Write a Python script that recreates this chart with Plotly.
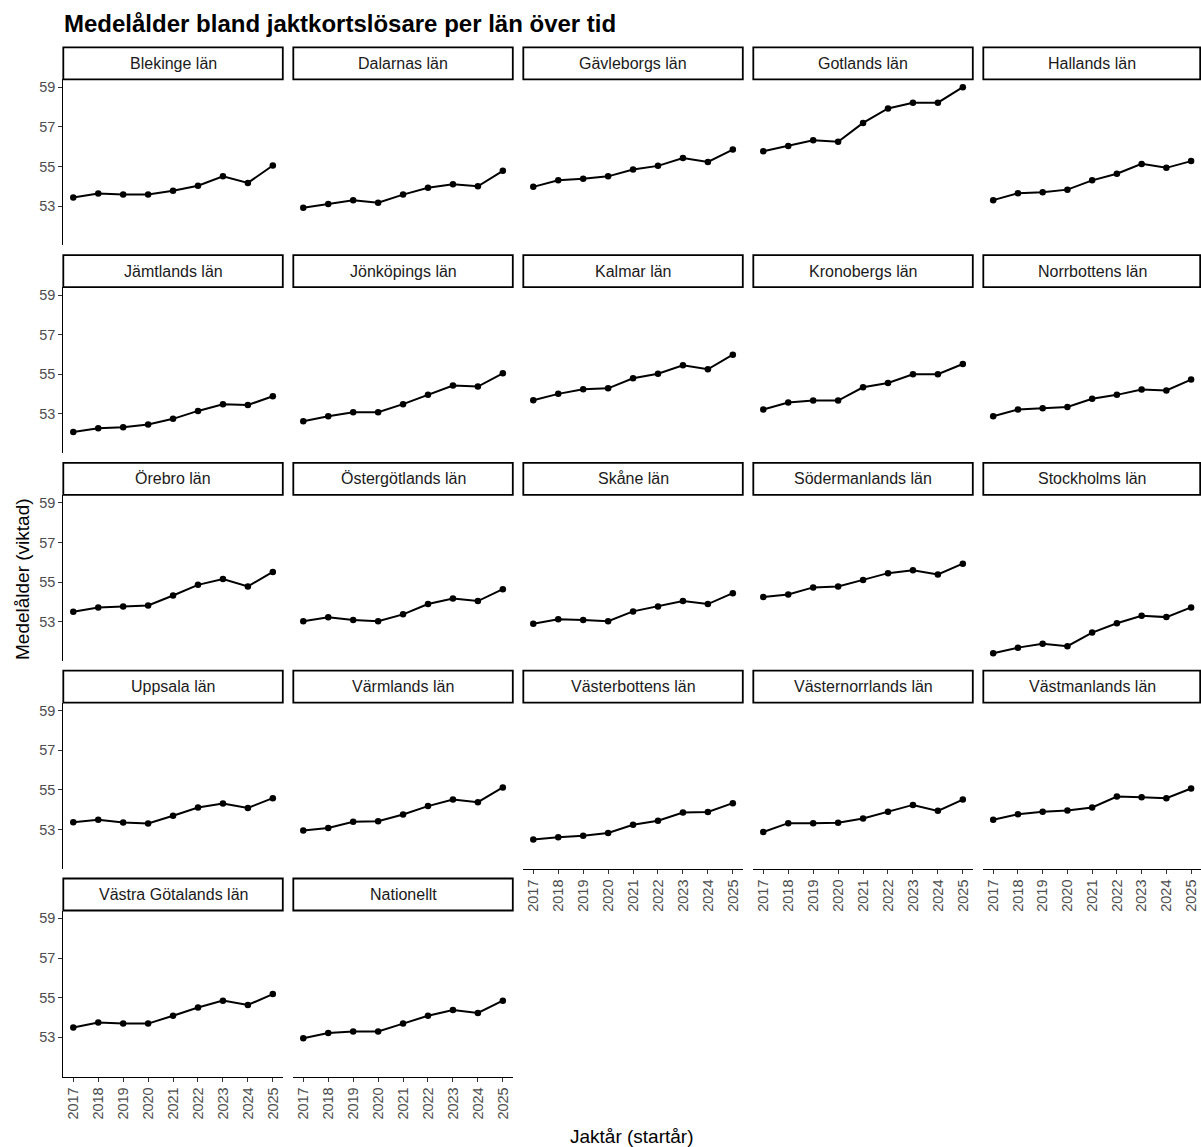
import plotly.graph_objects as go

years = [2017, 2018, 2019, 2020, 2021, 2022, 2023, 2024, 2025]
y_ticks = [53, 55, 57, 59]

blekinge = [53.43, 53.63, 53.58, 53.58, 53.77, 54.03, 54.50, 54.17, 55.05]
dalarna = [52.92, 53.10, 53.30, 53.17, 53.58, 53.92, 54.10, 54.00, 54.78]
gavleborg = [53.97, 54.30, 54.38, 54.50, 54.85, 55.03, 55.43, 55.23, 55.85]
gotland = [55.77, 56.03, 56.32, 56.25, 57.20, 57.93, 58.22, 58.22, 59.00]
halland = [53.30, 53.65, 53.70, 53.83, 54.30, 54.63, 55.13, 54.93, 55.27]
jamtland = [52.08, 52.28, 52.33, 52.46, 52.75, 53.15, 53.49, 53.45, 53.89]
jonkoping = [52.63, 52.88, 53.08, 53.08, 53.49, 53.96, 54.43, 54.38, 55.05]
kalmar = [53.69, 54.01, 54.24, 54.29, 54.80, 55.03, 55.45, 55.25, 55.99]
kronoberg = [53.22, 53.57, 53.67, 53.67, 54.34, 54.56, 55.00, 55.00, 55.52]
norrbotten = [52.88, 53.22, 53.29, 53.35, 53.76, 53.96, 54.23, 54.18, 54.73]
orebro = [53.50, 53.72, 53.77, 53.82, 54.32, 54.86, 55.15, 54.78, 55.51]
ostergotland = [53.02, 53.22, 53.08, 53.02, 53.37, 53.89, 54.17, 54.04, 54.64]
skane = [52.90, 53.12, 53.08, 53.02, 53.52, 53.77, 54.04, 53.89, 54.44]
sodermanland = [54.24, 54.37, 54.73, 54.78, 55.11, 55.45, 55.60, 55.38, 55.93]
stockholm = [51.41, 51.69, 51.88, 51.76, 52.45, 52.92, 53.30, 53.23, 53.72]
uppsala = [53.37, 53.49, 53.35, 53.30, 53.69, 54.11, 54.31, 54.09, 54.58]
varmland = [52.95, 53.07, 53.39, 53.42, 53.76, 54.18, 54.51, 54.38, 55.12]
vasterbotten = [52.50, 52.61, 52.68, 52.82, 53.24, 53.44, 53.86, 53.88, 54.33]
vasternorrland = [52.87, 53.32, 53.32, 53.34, 53.55, 53.89, 54.24, 53.94, 54.51]
vastmanland = [53.49, 53.77, 53.89, 53.96, 54.11, 54.66, 54.63, 54.58, 55.07]
vastra_gotaland = [53.49, 53.74, 53.69, 53.69, 54.09, 54.50, 54.85, 54.63, 55.18]
nationellt = [52.95, 53.22, 53.29, 53.29, 53.69, 54.09, 54.38, 54.23, 54.85]

panel_names = ["Blekinge län", "Dalarnas län", "Gävleborgs län", "Gotlands län", "Hallands län",
               "Jämtlands län", "Jönköpings län", "Kalmar län", "Kronobergs län", "Norrbottens län",
               "Örebro län", "Östergötlands län", "Skåne län", "Södermanlands län", "Stockholms län",
               "Uppsala län", "Värmlands län", "Västerbottens län", "Västernorrlands län", "Västmanlands län",
               "Västra Götalands län", "Nationellt"]
panel_values = [blekinge, dalarna, gavleborg, gotland, halland,
                jamtland, jonkoping, kalmar, kronoberg, norrbotten,
                orebro, ostergotland, skane, sodermanland, stockholm,
                uppsala, varmland, vasterbotten, vasternorrland, vastmanland,
                vastra_gotaland, nationellt]

W, H = 1201, 1147
FONT = "Liberation Sans, Arial, sans-serif"
TICK_SIZE = 14.5
fig = go.Figure()
layout = {}
shapes = []
annotations = []
n = len(panel_names)

for i, (name, vals) in enumerate(zip(panel_names, panel_values)):
    r, c = divmod(i, 5)
    x0 = 63.3 + c * 230
    x1 = min(x0 + 219.5, W)
    top = 47.3 + r * 207.8
    sb = top + 32
    pb = top + 198
    k = i + 1
    xname = "x" if k == 1 else f"x{k}"
    yname = "y" if k == 1 else f"y{k}"
    xkey = "xaxis" if k == 1 else f"xaxis{k}"
    ykey = "yaxis" if k == 1 else f"yaxis{k}"
    bottom = (i + 5 >= n)
    left = (c == 0)

    fig.add_trace(go.Scatter(
        x=years, y=vals, mode="lines+markers",
        line=dict(color="black", width=2),
        marker=dict(size=6.5, color="black"),
        xaxis=xname, yaxis=yname, showlegend=False, hoverinfo="skip"))

    layout[xkey] = dict(
        domain=[x0 / W, x1 / W], range=[2016.6, 2025.4], anchor=yname,
        showgrid=False, zeroline=False, showline=bottom, linecolor="black", linewidth=1.1,
        ticks="outside" if bottom else "", ticklen=4, tickwidth=1, tickcolor="#333333",
        tickmode="array", tickvals=years, ticktext=[str(y) for y in years],
        showticklabels=bottom, tickangle=-90,
        tickfont=dict(family=FONT, size=TICK_SIZE, color="#4D4D4D"), fixedrange=True)
    layout[ykey] = dict(
        domain=[1 - pb / H, 1 - sb / H], range=[51.02, 59.4], anchor=xname,
        showgrid=False, zeroline=False, showline=left, linecolor="black", linewidth=1.1,
        ticks="outside" if left else "", ticklen=4, tickwidth=1, tickcolor="#333333",
        tickmode="array", tickvals=y_ticks, showticklabels=left,
        tickfont=dict(family=FONT, size=TICK_SIZE, color="#4D4D4D"), fixedrange=True)

    shapes.append(dict(type="rect", xref="paper", yref="paper",
                       x0=x0 / W, x1=min(x1, W - 0.8) / W, y0=1 - sb / H, y1=1 - top / H,
                       line=dict(color="black", width=1.8), fillcolor="white", layer="below"))
    annotations.append(dict(text=name, xref="paper", yref="paper",
                            x=(x0 + x1) / 2 / W, y=1 - (top + sb) / 2 / H,
                            xanchor="center", yanchor="middle", showarrow=False,
                            font=dict(family=FONT, size=16, color="#1A1A1A")))

annotations.append(dict(text="<b>Medelålder bland jaktkortslösare per län över tid</b>",
                        xref="paper", yref="paper", x=62 / W, y=1 - 24 / H,
                        xanchor="left", yanchor="middle", showarrow=False,
                        font=dict(family=FONT, size=24, color="black")))
annotations.append(dict(text="Medelålder (viktad)", xref="paper", yref="paper",
                        x=22 / W, y=1 - 579 / H, textangle=-90,
                        xanchor="center", yanchor="middle", showarrow=False,
                        font=dict(family=FONT, size=19, color="black")))
annotations.append(dict(text="Jaktår (startår)", xref="paper", yref="paper",
                        x=632 / W, y=1 - 1136 / H,
                        xanchor="center", yanchor="middle", showarrow=False,
                        font=dict(family=FONT, size=19, color="black")))

fig.update_layout(width=W, height=H, margin=dict(l=0, r=0, t=0, b=0),
                  paper_bgcolor="white", plot_bgcolor="white",
                  shapes=shapes, annotations=annotations, hovermode=False,
                  font=dict(family=FONT), **layout)

fig.write_html("out.html", config={"displayModeBar": False},
               post_script="document.body.style.margin='0px';document.body.style.overflow='hidden';")
